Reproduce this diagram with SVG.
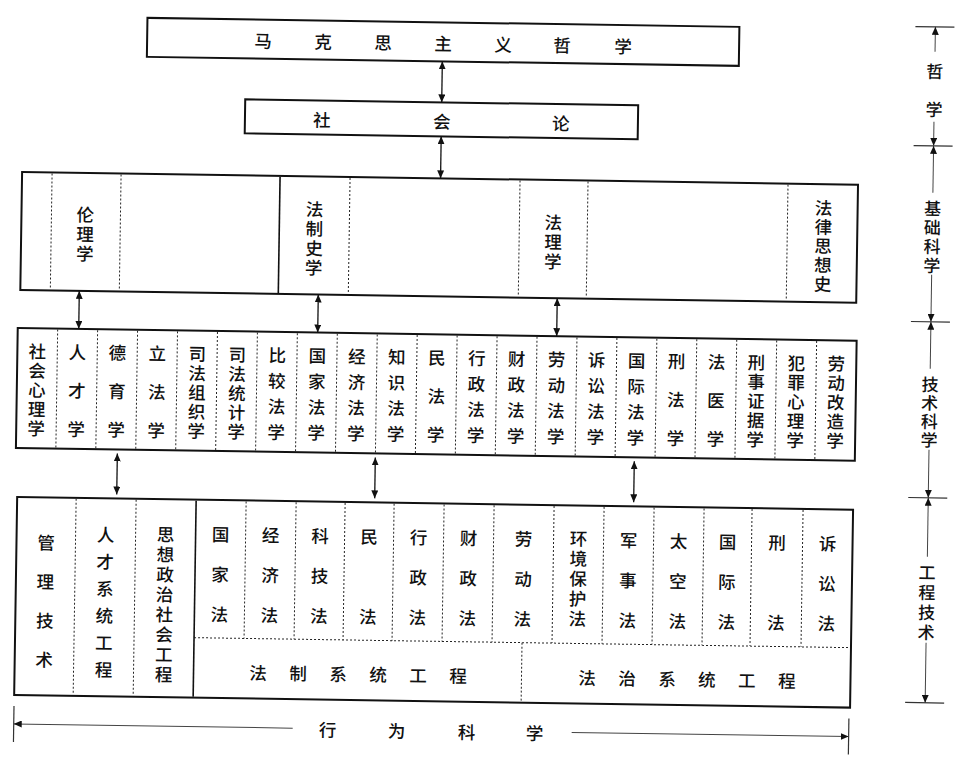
<svg xmlns="http://www.w3.org/2000/svg" width="964" height="763" viewBox="0 0 964 763">
<style>
.box{fill:#fff;stroke:#111;stroke-width:2}
.dot{fill:none;stroke:#222;stroke-width:1;stroke-dasharray:2 2}
.sol{fill:none;stroke:#111;stroke-width:1.6}
.t{font-family:"Noto Sans CJK SC","Noto Sans CJK TC",sans-serif;font-size:17.5px;font-weight:500;fill:#111;text-anchor:middle;dominant-baseline:central}
.t tspan{dominant-baseline:central}
.s{font-size:17px}
.c{stroke:#111;stroke-width:1.3;fill:none;marker-start:url(#ah);marker-end:url(#ah)}
.sc{stroke:#444;stroke-width:1;fill:none}
.tick{stroke:#333;stroke-width:1.2}
</style>
<defs>
<marker id="ah" markerUnits="userSpaceOnUse" markerWidth="8" markerHeight="7" refX="8" refY="3.5" orient="auto-start-reverse"><path d="M0,0 L8,3.5 L0,7 z" fill="#111"/></marker>
</defs>
<rect width="964" height="763" fill="#fff"/>
<g transform="rotate(0.87 482 380)">

<g id="n-marx">
<rect class="box" x="142" y="23" width="592" height="39"/>
<text class="t" y="43"><tspan x="258" y="43">马</tspan><tspan x="318" y="43">克</tspan><tspan x="378" y="43">思</tspan><tspan x="438" y="43">主</tspan><tspan x="498" y="43">义</tspan><tspan x="557" y="43">哲</tspan><tspan x="618" y="43">学</tspan></text>
</g>

<g id="n-social">
<rect class="box" x="241" y="103" width="393" height="34"/>
<text class="t"><tspan x="318" y="121">社</tspan><tspan x="438" y="121">会</tspan><tspan x="557" y="121">论</tspan></text>
</g>

<g id="n-basic">
<rect class="box" x="19" y="179" width="836" height="118"/>
<path class="dot" d="M49,180V296 M118,180V296 M347,180V296 M517,180V296 M585,180V296 M785,180V296"/>
<path class="sol" d="M277,180V296"/>
<text class="t"><tspan x="83" y="219.5">伦</tspan><tspan x="83" y="239">理</tspan><tspan x="83" y="258.5">学</tspan></text>
<text class="t"><tspan x="312" y="210.5">法</tspan><tspan x="312" y="230">制</tspan><tspan x="312" y="249.5">史</tspan><tspan x="312" y="269">学</tspan></text>
<text class="t"><tspan x="551" y="220">法</tspan><tspan x="551" y="239.5">理</tspan><tspan x="551" y="259">学</tspan></text>
<text class="t"><tspan x="821" y="201.5">法</tspan><tspan x="821" y="220.5">律</tspan><tspan x="821" y="239.5">思</tspan><tspan x="821" y="258.5">想</tspan><tspan x="821" y="277.5">史</tspan></text>
</g>

<g id="n-tech">
<rect class="box" x="17" y="335" width="839" height="120"/>
<path class="dot" d="M56.95,336V454 M96.9,336V454 M136.85,336V454 M176.8,336V454 M216.75,336V454 M256.7,336V454 M296.65,336V454 M336.6,336V454 M376.55,336V454 M416.5,336V454 M456.45,336V454 M496.4,336V454 M536.35,336V454 M576.3,336V454 M616.25,336V454 M656.2,336V454 M696.15,336V454 M736.1,336V454 M776.05,336V454 M816,336V454"/>
<text class="t"><tspan x="37" y="357">社</tspan><tspan x="37" y="376.25">会</tspan><tspan x="37" y="395.5">心</tspan><tspan x="37" y="414.75">理</tspan><tspan x="37" y="434">学</tspan></text>
<text class="t"><tspan x="77" y="357">人</tspan><tspan x="77" y="395.5">才</tspan><tspan x="77" y="434">学</tspan></text>
<text class="t"><tspan x="117" y="357">德</tspan><tspan x="117" y="395.5">育</tspan><tspan x="117" y="434">学</tspan></text>
<text class="t"><tspan x="157" y="357">立</tspan><tspan x="157" y="395.5">法</tspan><tspan x="157" y="434">学</tspan></text>
<text class="t"><tspan x="197" y="357">司</tspan><tspan x="197" y="376.25">法</tspan><tspan x="197" y="395.5">组</tspan><tspan x="197" y="414.75">织</tspan><tspan x="197" y="434">学</tspan></text>
<text class="t"><tspan x="237" y="357">司</tspan><tspan x="237" y="376.25">法</tspan><tspan x="237" y="395.5">统</tspan><tspan x="237" y="414.75">计</tspan><tspan x="237" y="434">学</tspan></text>
<text class="t"><tspan x="277" y="357">比</tspan><tspan x="277" y="382.7">较</tspan><tspan x="277" y="408.3">法</tspan><tspan x="277" y="434">学</tspan></text>
<text class="t"><tspan x="317" y="357">国</tspan><tspan x="317" y="382.7">家</tspan><tspan x="317" y="408.3">法</tspan><tspan x="317" y="434">学</tspan></text>
<text class="t"><tspan x="356.6" y="357">经</tspan><tspan x="356.6" y="382.7">济</tspan><tspan x="356.6" y="408.3">法</tspan><tspan x="356.6" y="434">学</tspan></text>
<text class="t"><tspan x="396.5" y="357">知</tspan><tspan x="396.5" y="382.7">识</tspan><tspan x="396.5" y="408.3">法</tspan><tspan x="396.5" y="434">学</tspan></text>
<text class="t"><tspan x="436.5" y="357">民</tspan><tspan x="436.5" y="395.5">法</tspan><tspan x="436.5" y="434">学</tspan></text>
<text class="t"><tspan x="476.5" y="357">行</tspan><tspan x="476.5" y="382.7">政</tspan><tspan x="476.5" y="408.3">法</tspan><tspan x="476.5" y="434">学</tspan></text>
<text class="t"><tspan x="516.4" y="357">财</tspan><tspan x="516.4" y="382.7">政</tspan><tspan x="516.4" y="408.3">法</tspan><tspan x="516.4" y="434">学</tspan></text>
<text class="t"><tspan x="556.4" y="357">劳</tspan><tspan x="556.4" y="382.7">动</tspan><tspan x="556.4" y="408.3">法</tspan><tspan x="556.4" y="434">学</tspan></text>
<text class="t"><tspan x="596.3" y="357">诉</tspan><tspan x="596.3" y="382.7">讼</tspan><tspan x="596.3" y="408.3">法</tspan><tspan x="596.3" y="434">学</tspan></text>
<text class="t"><tspan x="636.3" y="357">国</tspan><tspan x="636.3" y="382.7">际</tspan><tspan x="636.3" y="408.3">法</tspan><tspan x="636.3" y="434">学</tspan></text>
<text class="t"><tspan x="676.2" y="357">刑</tspan><tspan x="676.2" y="395.5">法</tspan><tspan x="676.2" y="434">学</tspan></text>
<text class="t"><tspan x="716.2" y="357">法</tspan><tspan x="716.2" y="395.5">医</tspan><tspan x="716.2" y="434">学</tspan></text>
<text class="t"><tspan x="756.1" y="357">刑</tspan><tspan x="756.1" y="376.25">事</tspan><tspan x="756.1" y="395.5">证</tspan><tspan x="756.1" y="414.75">据</tspan><tspan x="756.1" y="434">学</tspan></text>
<text class="t"><tspan x="796.1" y="357">犯</tspan><tspan x="796.1" y="376.25">罪</tspan><tspan x="796.1" y="395.5">心</tspan><tspan x="796.1" y="414.75">理</tspan><tspan x="796.1" y="434">学</tspan></text>
<text class="t"><tspan x="836" y="357">劳</tspan><tspan x="836" y="376.25">动</tspan><tspan x="836" y="395.5">改</tspan><tspan x="836" y="414.75">造</tspan><tspan x="836" y="434">学</tspan></text>
</g>

<g id="n-eng">
<rect class="box" x="19" y="504" width="836" height="198"/>
<path class="dot" d="M78,505V701 M138,505V701 M248,505V642 M298,505V642 M347,505V642 M396,505V642 M446,505V642 M496,505V642 M556,505V642 M606,505V642 M656,505V642 M706,505V642 M754,505V642 M805,505V642 M198,642H854 M526,642V701"/>
<path class="sol" d="M198,505V701"/>
<text class="t"><tspan x="48.5" y="548">管</tspan><tspan x="48.5" y="587">理</tspan><tspan x="48.5" y="626">技</tspan><tspan x="48.5" y="665">术</tspan></text>
<text class="t"><tspan x="108" y="539">人</tspan><tspan x="108" y="566">才</tspan><tspan x="108" y="593">系</tspan><tspan x="108" y="620">统</tspan><tspan x="108" y="647">工</tspan><tspan x="108" y="674">程</tspan></text>
<text class="t"><tspan x="168" y="538">思</tspan><tspan x="168" y="558">想</tspan><tspan x="168" y="578">政</tspan><tspan x="168" y="598">治</tspan><tspan x="168" y="618">社</tspan><tspan x="168" y="638">会</tspan><tspan x="168" y="658">工</tspan><tspan x="168" y="678">程</tspan></text>
<text class="t"><tspan x="223" y="537">国</tspan><tspan x="223" y="577">家</tspan><tspan x="223" y="617">法</tspan></text>
<text class="t"><tspan x="273" y="537">经</tspan><tspan x="273" y="577">济</tspan><tspan x="273" y="617">法</tspan></text>
<text class="t"><tspan x="322.5" y="537">科</tspan><tspan x="322.5" y="577">技</tspan><tspan x="322.5" y="617">法</tspan></text>
<text class="t"><tspan x="371.5" y="537">民</tspan><tspan x="371.5" y="617">法</tspan></text>
<text class="t"><tspan x="421" y="537">行</tspan><tspan x="421" y="577">政</tspan><tspan x="421" y="617">法</tspan></text>
<text class="t"><tspan x="471" y="537">财</tspan><tspan x="471" y="577">政</tspan><tspan x="471" y="617">法</tspan></text>
<text class="t"><tspan x="526" y="537">劳</tspan><tspan x="526" y="577">动</tspan><tspan x="526" y="617">法</tspan></text>
<text class="t"><tspan x="581" y="536">环</tspan><tspan x="581" y="556">境</tspan><tspan x="581" y="576">保</tspan><tspan x="581" y="596">护</tspan><tspan x="581" y="616">法</tspan></text>
<text class="t"><tspan x="631" y="537">军</tspan><tspan x="631" y="577">事</tspan><tspan x="631" y="617">法</tspan></text>
<text class="t"><tspan x="681" y="537">太</tspan><tspan x="681" y="577">空</tspan><tspan x="681" y="617">法</tspan></text>
<text class="t"><tspan x="730" y="537">国</tspan><tspan x="730" y="577">际</tspan><tspan x="730" y="617">法</tspan></text>
<text class="t"><tspan x="779.5" y="537">刑</tspan><tspan x="779.5" y="617">法</tspan></text>
<text class="t"><tspan x="830" y="537">诉</tspan><tspan x="830" y="577">讼</tspan><tspan x="830" y="617">法</tspan></text>
<text class="t"><tspan x="262.5" y="675">法</tspan><tspan x="302.5" y="675">制</tspan><tspan x="342.5" y="675">系</tspan><tspan x="382.5" y="675">统</tspan><tspan x="422.5" y="675">工</tspan><tspan x="462.5" y="675">程</tspan></text>
<text class="t"><tspan x="591.5" y="675">法</tspan><tspan x="631.5" y="675">治</tspan><tspan x="671.5" y="675">系</tspan><tspan x="711.5" y="675">统</tspan><tspan x="751.5" y="675">工</tspan><tspan x="791.5" y="675">程</tspan></text>
</g>

<g id="connectors">
<line class="c" x1="437.5" y1="62" x2="437.5" y2="103"/>
<line class="c" x1="437.5" y1="137" x2="437.5" y2="179"/>
<line class="c" x1="78" y1="297" x2="78" y2="335"/>
<line class="c" x1="317" y1="297" x2="317" y2="335"/>
<line class="c" x1="556" y1="297" x2="556" y2="335"/>
<line class="c" x1="118.5" y1="459" x2="118.5" y2="500"/>
<line class="c" x1="376.5" y1="459" x2="376.5" y2="500"/>
<line class="c" x1="635.5" y1="459" x2="635.5" y2="500"/>
</g>

<g id="behavior">
<line class="tick" x1="19" y1="713" x2="19" y2="749"/>
<line class="tick" x1="854" y1="713" x2="854" y2="749"/>
<line class="sc" x1="298" y1="731" x2="19" y2="731" marker-end="url(#ah)"/>
<line class="sc" x1="577" y1="731" x2="854" y2="731" marker-end="url(#ah)"/>
<text class="t"><tspan x="333" y="731">行</tspan><tspan x="402" y="731">为</tspan><tspan x="472" y="731">科</tspan><tspan x="540" y="731">学</tspan></text>
</g>

<g id="scale">
<path class="tick" d="M910,20H949 M910,139H949 M910,315H949 M910,491H949 M910,696H949"/>
<line class="sc" x1="930" y1="45" x2="930" y2="20" marker-end="url(#ah)"/>
<line class="sc" x1="930" y1="115" x2="930" y2="139" marker-end="url(#ah)"/>
<line class="sc" x1="930" y1="186" x2="930" y2="139" marker-end="url(#ah)"/>
<line class="sc" x1="930" y1="268" x2="930" y2="315" marker-end="url(#ah)"/>
<line class="sc" x1="930" y1="362" x2="930" y2="315" marker-end="url(#ah)"/>
<line class="sc" x1="930" y1="443" x2="930" y2="491" marker-end="url(#ah)"/>
<line class="sc" x1="930" y1="550" x2="930" y2="491" marker-end="url(#ah)"/>
<line class="sc" x1="930" y1="636" x2="930" y2="696" marker-end="url(#ah)"/>
<text class="t s"><tspan x="930" y="63">哲</tspan><tspan x="930" y="101">学</tspan></text>
<text class="t s"><tspan x="930" y="200">基</tspan><tspan x="930" y="219">础</tspan><tspan x="930" y="238">科</tspan><tspan x="930" y="257">学</tspan></text>
<text class="t s"><tspan x="930" y="376">技</tspan><tspan x="930" y="394.5">术</tspan><tspan x="930" y="413">科</tspan><tspan x="930" y="431.5">学</tspan></text>
<text class="t s"><tspan x="930" y="564">工</tspan><tspan x="930" y="584">程</tspan><tspan x="930" y="604">技</tspan><tspan x="930" y="624">术</tspan></text>
</g>

</g>
</svg>
